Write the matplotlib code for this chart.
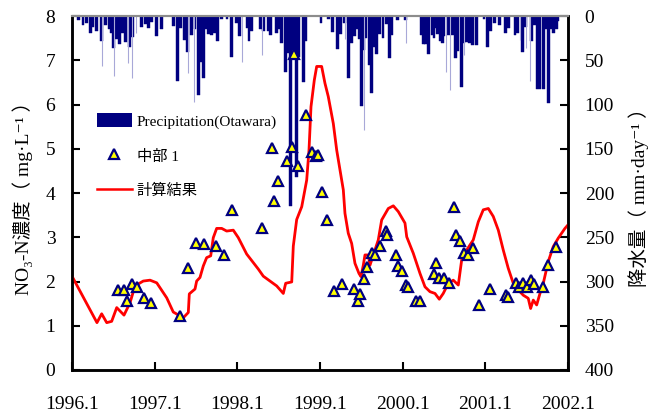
import matplotlib
matplotlib.use("Agg")
import matplotlib.pyplot as plt
from matplotlib.patches import Patch
from matplotlib.lines import Line2D

plt.rcParams["font.family"] = ["Liberation Serif", "Noto Sans CJK JP", "DejaVu Serif"]

# simulated NO3-N (line)
calc_t = [1996.000, 1996.302, 1996.359, 1996.420, 1996.480, 1996.541, 1996.629, 1996.702,
          1996.762, 1996.862, 1996.944, 1997.025, 1997.146, 1997.225, 1997.346, 1997.407,
          1997.419, 1997.488, 1997.508, 1997.548, 1997.588, 1997.629, 1997.678, 1997.709,
          1997.750, 1997.811, 1997.871, 1997.951, 1998.012, 1998.113, 1998.254, 1998.314,
          1998.476, 1998.556, 1998.585, 1998.658, 1998.677, 1998.718, 1998.779, 1998.839,
          1998.867, 1998.891, 1998.931, 1998.960, 1999.020, 1999.060, 1999.100, 1999.161,
          1999.202, 1999.242, 1999.282, 1999.302, 1999.342, 1999.383, 1999.423, 1999.472,
          1999.496, 1999.524, 1999.544, 1999.584, 1999.605, 1999.645, 1999.705, 1999.746,
          1999.826, 1999.887, 1999.947, 2000.028, 2000.049, 2000.128, 2000.210, 2000.270,
          2000.330, 2000.391, 2000.443, 2000.491, 2000.552, 2000.612, 2000.673, 2000.714,
          2000.774, 2000.854, 2000.915, 2000.975, 2001.036, 2001.096, 2001.157, 2001.217,
          2001.277, 2001.338, 2001.398, 2001.459, 2001.519, 2001.548, 2001.580, 2001.621,
          2001.661, 2001.701, 2001.761, 2001.822, 2001.882, 2001.963, 2002.000]
calc_v = [2.12, 1.07, 1.27, 1.07, 1.10, 1.41, 1.24, 1.52,
          1.90, 2.01, 2.03, 1.97, 1.63, 1.31, 1.18, 1.30,
          1.72, 1.83, 2.01, 2.09, 2.35, 2.54, 2.58, 2.99,
          3.20, 3.20, 3.14, 3.16, 2.99, 2.62, 2.28, 2.12,
          1.90, 1.73, 1.96, 1.99, 2.80, 3.40, 3.69, 4.29,
          4.97, 5.95, 6.55, 6.86, 6.86, 6.48, 6.18, 5.57,
          4.97, 4.52, 4.07, 3.54, 3.09, 2.86, 2.41, 2.18,
          2.11, 2.37, 2.60, 2.60, 2.37, 2.60, 2.94, 3.39,
          3.65, 3.71, 3.58, 3.32, 3.01, 2.64, 2.18, 1.88,
          1.77, 1.73, 1.60, 1.73, 1.96, 2.03, 1.92, 2.49,
          2.71, 2.94, 3.35, 3.62, 3.65, 3.47, 3.16, 2.71,
          2.30, 1.96, 1.81, 1.69, 1.62, 1.39, 1.58, 1.47,
          1.73, 1.96, 2.45, 2.79, 2.98, 3.20, 3.28]

# observed NO3-N (中部1)
obs_t = [1996.553, 1996.633, 1996.662, 1996.722, 1996.783, 1996.875, 1996.952, 1997.306,
         1997.400, 1997.500, 1997.597, 1997.742, 1997.842, 1997.939, 1998.302, 1998.425,
         1998.446, 1998.495, 1998.604, 1998.661, 1998.688, 1998.737, 1998.831, 1998.899,
         1998.952, 1998.976, 1999.024, 1999.081, 1999.172, 1999.272, 1999.411, 1999.457,
         1999.487, 1999.535, 1999.565, 1999.629, 1999.660, 1999.721, 1999.802, 1999.810,
         1999.919, 1999.943, 1999.986, 2000.040, 2000.068, 2000.161, 2000.213, 2000.379,
         2000.403, 2000.443, 2000.503, 2000.557, 2000.621, 2000.645, 2000.693, 2000.742,
         2000.794, 2000.845, 2000.918, 2001.060, 2001.253, 2001.277, 2001.371, 2001.407,
         2001.452, 2001.500, 2001.548, 2001.592, 2001.694, 2001.761, 2001.855]
obs_v = [1.81, 1.81, 1.56, 1.94, 1.88, 1.62, 1.52, 1.23,
         2.30, 2.88, 2.84, 2.81, 2.60, 3.61, 3.20, 5.01,
         3.83, 4.27, 4.72, 5.05, 7.15, 4.62, 5.77, 4.92,
         4.83, 4.87, 4.02, 3.39, 1.79, 1.94, 1.84, 1.55,
         1.71, 2.06, 2.33, 2.65, 2.60, 2.80, 3.13, 3.05,
         2.60, 2.36, 2.24, 1.93, 1.88, 1.55, 1.55, 2.18,
         2.42, 2.07, 2.07, 1.96, 3.69, 3.06, 2.92, 2.65,
         2.60, 2.75, 1.48, 1.82, 1.70, 1.65, 1.96, 1.88,
         1.97, 1.88, 2.03, 1.94, 1.88, 2.37, 2.79]

# precipitation (Otawara), mm/day
rain_t = [1996.073, 1996.133, 1996.181, 1996.218, 1996.254, 1996.302, 1996.351, 1996.411,
          1996.448, 1996.472, 1996.500, 1996.541, 1996.569, 1996.605, 1996.653, 1996.693,
          1996.726, 1996.835, 1996.895, 1996.928, 1996.959, 1997.028, 1997.077, 1997.222,
          1997.274, 1997.318, 1997.363, 1997.400, 1997.443, 1997.488, 1997.536, 1997.564,
          1997.593, 1997.621, 1997.657, 1997.693, 1997.726, 1997.762, 1997.814, 1997.875,
          1997.927, 1997.987, 1998.032, 1998.120, 1998.141, 1998.177, 1998.286, 1998.322,
          1998.371, 1998.407, 1998.468, 1998.504, 1998.540, 1998.577, 1998.601, 1998.645,
          1998.677, 1998.718, 1998.742, 1998.798, 1998.824, 1999.012, 1999.097, 1999.157,
          1999.206, 1999.248, 1999.299, 1999.347, 1999.381, 1999.420, 1999.447, 1999.472,
          1999.499, 1999.526, 1999.556, 1999.593, 1999.623, 1999.653, 1999.689, 1999.720,
          1999.762, 1999.810, 1999.841, 1999.871, 1999.943, 2000.032, 2000.222, 2000.252,
          2000.282, 2000.318, 2000.355, 2000.379, 2000.409, 2000.427, 2000.458, 2000.482,
          2000.500, 2000.560, 2000.603, 2000.637, 2000.669, 2000.709, 2000.742, 2000.770,
          2000.808, 2000.839, 2000.899, 2000.984, 2001.026, 2001.068, 2001.105, 2001.169,
          2001.241, 2001.286, 2001.359, 2001.395, 2001.455, 2001.483, 2001.556, 2001.597,
          2001.625, 2001.661, 2001.701, 2001.737, 2001.770, 2001.806, 2001.824, 2001.855,
          2001.879]
rain_mm = [4, 10, 8, 19, 12, 17, 28, 10,
           15, 19, 36, 26, 32, 19, 29, 35,
           24, 12, 9, 13, 7, 23, 15, 11,
           73, 13, 27, 41, 22, 15, 89, 52,
           70, 15, 20, 22, 19, 28, 3, 3,
           46, 8, 23, 14, 28, 17, 15, 17,
           17, 21, 19, 15, 31, 63, 42, 215,
           38, 182, 46, 75, 28, 8, 3, 18,
           37, 20, 8, 70, 31, 23, 15, 26,
           102, 38, 25, 55, 87, 35, 43, 20,
           25, 9, 48, 22, 5, 5, 21, 32,
           32, 43, 22, 25, 14, 20, 28, 31,
           23, 21, 22, 48, 40, 80, 31, 29,
           31, 33, 33, 3, 35, 17, 8, 10,
           19, 13, 21, 19, 41, 12, 28, 10,
           82, 82, 82, 15, 98, 15, 19, 15,
           6]

# single wet days drawn as thin faint lines
thin_t = [1996.367, 1996.512, 1996.681, 1996.729, 1996.774, 1997.407, 1997.476, 1998.056,
          1998.302, 1999.308, 1999.536, 2000.040, 2000.530, 2000.570, 2000.742, 2001.419,
          2001.492, 2001.540]
thin_mm = [57, 68, 53, 70, 19, 64, 97, 52,
           44, 26, 129, 30, 63, 84, 44, 27,
           36, 74]

years = list(range(1996, 2003))
year_labels = [f"{y}.1" for y in years]

fig = plt.figure(figsize=(6.55, 4.12), dpi=100)
ax = fig.add_axes([72 / 655, 1 - 370 / 412, 496 / 655, 354 / 412])
ax2 = ax.twinx()

ax2.bar(rain_t, rain_mm, width=0.036, color="#000080", edgecolor="#000080",
        linewidth=0.3, align="center")
ax2.vlines(thin_t, 0, thin_mm, color="#a8a8d8", linewidth=0.8)
ax2.set_ylim(400, 0)
ax2.set_yticks(range(0, 401, 50))

ax.plot(calc_t, calc_v, color="#ff0000", linewidth=2.0)
ax.plot(obs_t, obs_v, linestyle="none", marker="^", markersize=7.5,
        markerfacecolor="#ffff00", markeredgecolor="#000080", markeredgewidth=1.6)

ax.set_zorder(ax2.get_zorder() + 1)
ax.patch.set_visible(False)

ax.set_xlim(1996, 2002)
ax.set_ylim(0, 8)
ax.set_xticks(years)
ax.set_xticklabels(year_labels)
ax.set_yticks(range(0, 9))

ax.tick_params(axis="x", direction="in", length=6, width=1.5, labelsize=14, pad=19)
ax.tick_params(axis="y", direction="in", length=6, width=1.5, labelsize=14, pad=12)
ax2.tick_params(axis="y", direction="in", length=6, width=1.5, labelsize=14, pad=12)

for a in (ax, ax2):
    for s in ("left", "right", "bottom"):
        a.spines[s].set_linewidth(1.8)
        a.spines[s].set_color("black")
    a.spines["top"].set_color("#8c8c8c")
    a.spines["top"].set_linewidth(1.5)

ax.set_ylabel("NO₃-N濃度（ mg·L⁻¹ ）", fontsize=14, labelpad=9)
ax2.set_ylabel("降水量（ mm·day⁻¹ ）", fontsize=14, labelpad=10)

handles = [Patch(facecolor="#000080", edgecolor="none"),
           Line2D([], [], linestyle="none", marker="^", markersize=7.5,
                  markerfacecolor="#ffff00", markeredgecolor="#000080", markeredgewidth=1.6),
           Line2D([], [], color="#ff0000", linewidth=1.8)]
labels = ["Precipitation(Otawara)", "中部 1", "計算結果"]
ax.legend(handles, labels, loc="upper left", bbox_to_anchor=(0.05, 0.725), frameon=False,
          borderpad=0, borderaxespad=0, fontsize=11, handlelength=2.3, handleheight=1.0,
          labelspacing=1.3, handletextpad=0.3)

fig.savefig("out.png", dpi=100)
